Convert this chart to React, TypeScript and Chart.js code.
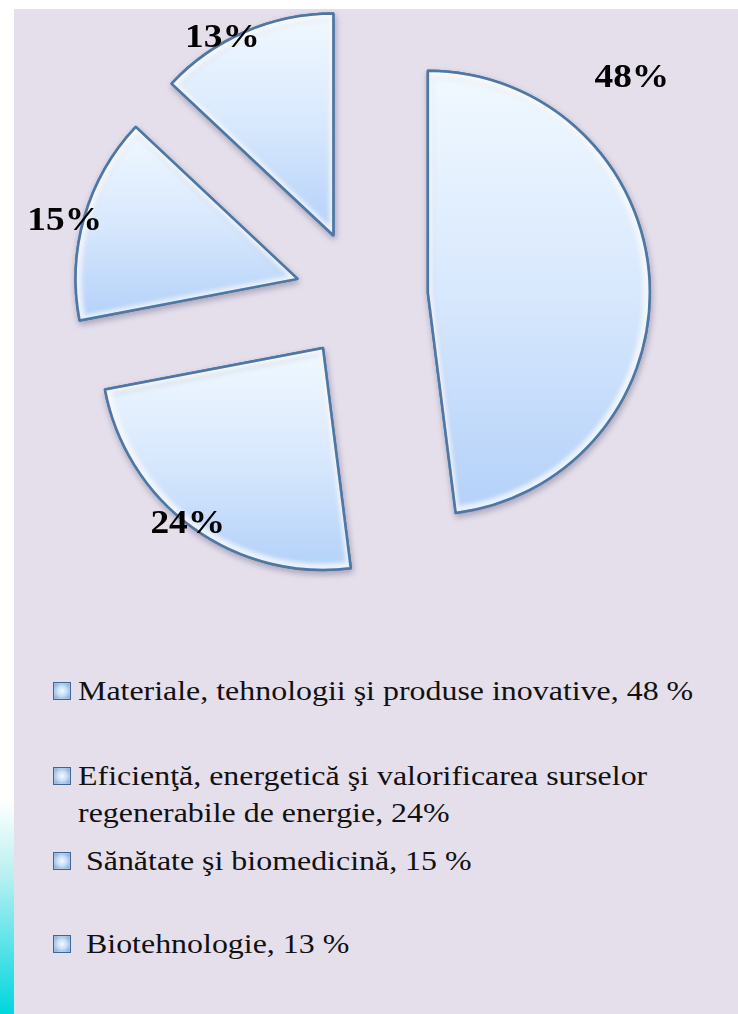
import React, { useEffect, useRef } from "react";
import { Chart, registerables } from "chart.js";

Chart.register(...registerables);

// ---- data ----
const categories = [
  "Materiale, tehnologii şi produse inovative",
  "Eficienţă, energetică şi valorificarea surselor regenerabile de energie",
  "Sănătate şi biomedicină",
  "Biotehnologie",
];
const shares = [48, 24, 15, 13];
const sliceLabels = ["48%", "24%", "15%", "13%"];
const legendLabels = [
  "Materiale, tehnologii şi produse inovative, 48 %",
  "Eficienţă, energetică şi valorificarea surselor\nregenerabile de energie, 24%",
  " Sănătate şi biomedicină, 15 %",
  " Biotehnologie, 13 %",
];

// ---- style ----
const explodeDist = [68, 63, 65, 67]; // radial explosion, px
const labelAngles = [43.5, 217.5, 284, 330.6];
const labelRadii = [1.335, 1.0, 1.081, 1.018];
const legendTops = [672, 757, 842, 925];
const BG = "#e5dfec";
const BORDER = "#4d78a6";

function arcPath(ctx: CanvasRenderingContext2D, arc: any, inset = 0) {
  ctx.beginPath();
  ctx.moveTo(arc.x, arc.y);
  ctx.arc(arc.x, arc.y, arc.outerRadius - inset, arc.startAngle, arc.endAngle);
  ctx.closePath();
}

const piePlugin = {
  id: "pieDecor",
  afterDatasetUpdate(chart: any) {
    const meta = chart.getDatasetMeta(0);
    meta.data.forEach((arc: any, i: number) => {
      const half = (arc.startAngle + arc.endAngle) / 2;
      arc.x += Math.cos(half) * explodeDist[i];
      arc.y += Math.sin(half) * explodeDist[i];
    });
  },
  beforeDatasetsDraw(chart: any) {
    const ctx = chart.ctx;
    const meta = chart.getDatasetMeta(0);
    meta.data.forEach((arc: any) => {
      const R = arc.outerRadius;
      let minY = arc.y;
      let maxY = arc.y;
      for (let i = 0; i <= 40; i++) {
        const a = arc.startAngle + ((arc.endAngle - arc.startAngle) * i) / 40;
        const y = arc.y + Math.sin(a) * R;
        minY = Math.min(minY, y);
        maxY = Math.max(maxY, y);
      }
      const g = ctx.createLinearGradient(0, minY, 0, maxY);
      g.addColorStop(0, "#f1f9ff");
      g.addColorStop(0.5, "#d8e8fd");
      g.addColorStop(1, "#b3d1f9");
      arc.options.backgroundColor = g;
    });
    ctx.save();
    ctx.shadowColor = "rgba(70,70,100,0.35)";
    ctx.shadowBlur = 6;
    ctx.shadowOffsetX = 1;
    ctx.shadowOffsetY = 3;
  },
  afterDatasetsDraw(chart: any) {
    const ctx = chart.ctx;
    ctx.restore();
    const meta = chart.getDatasetMeta(0);
    // bevel highlight
    meta.data.forEach((arc: any) => {
      ctx.save();
      arcPath(ctx, arc);
      ctx.clip();
      ctx.filter = "blur(2px)";
      ctx.strokeStyle = "rgba(255,255,255,0.75)";
      ctx.lineWidth = 9;
      arcPath(ctx, arc, 2);
      ctx.stroke();
      ctx.filter = "none";
      ctx.restore();
      ctx.save();
      ctx.strokeStyle = BORDER;
      ctx.lineWidth = 2.5;
      ctx.lineJoin = "round";
      arcPath(ctx, arc);
      ctx.stroke();
      ctx.restore();
    });
    ctx.save();
    ctx.font = "bold 34px 'Liberation Serif', 'Times New Roman', serif";
    ctx.fillStyle = "#000";
    ctx.textAlign = "center";
    ctx.textBaseline = "middle";
    meta.data.forEach((arc: any, i: number) => {
      const a = (labelAngles[i] * Math.PI) / 180;
      const d = arc.outerRadius * labelRadii[i];
      const lx = arc.x + Math.sin(a) * d;
      const ly = arc.y - Math.cos(a) * d;
      ctx.save();
      ctx.translate(lx, ly);
      ctx.scale(1.1, 1);
      ctx.fillText(sliceLabels[i], 0, 0);
      ctx.restore();
    });
    ctx.restore();
  },
};

export default function App() {
  const ref = useRef<HTMLCanvasElement | null>(null);

  useEffect(() => {
    if (!ref.current) return;
    const chart = new Chart(ref.current, {
      type: "pie",
      data: {
        labels: categories,
        datasets: [
          {
            data: shares,
            backgroundColor: () => "#d9e9fd",
            borderColor: BORDER,
            borderWidth: 2.5,
            clip: false as any,
          } as any,
        ],
      },
      options: {
        responsive: false,
        animation: false,
        radius: 222,
        layout: { padding: { left: 0, right: 18, top: 0, bottom: 26 } },
        plugins: {
          legend: { display: false },
          tooltip: { enabled: false },
        },
        events: [],
      } as any,
      plugins: [piePlugin],
    });
    return () => chart.destroy();
  }, []);

  return (
    <div
      style={{
        position: "fixed",
        left: 0,
        top: 0,
        width: 738,
        height: 1014,
        background: "#ffffff",
        overflow: "hidden",
      }}
    >
      <div
        style={{
          position: "absolute",
          left: 0,
          top: 800,
          width: 14,
          height: 214,
          background: "linear-gradient(to bottom, #ffffff 0%, #b8f0f2 35%, #00d6de 100%)",
        }}
      />
      <div
        style={{
          position: "absolute",
          left: 14,
          top: 9,
          right: 0,
          bottom: 0,
          background: BG,
        }}
      />
      <canvas
        ref={ref}
        width={738}
        height={620}
        style={{ position: "absolute", left: 0, top: 0, width: 738, height: 620 }}
      />
      {legendLabels.map((label, i) => (
        <div
          key={i}
          style={{
            position: "absolute",
            left: 53,
            top: legendTops[i],
            display: "flex",
            alignItems: "flex-start",
          }}
        >
          <div
            style={{
              width: 16,
              height: 16,
              marginTop: 10,
              border: "1px solid #3f6595",
              background:
                "radial-gradient(circle at 50% 50%, #f4f9ff 0%, #c6dcf7 45%, #6f97c8 100%)",
              boxShadow: "inset 0 0 2px rgba(255,255,255,0.8)",
              flex: "none",
            }}
          />
          <div
            style={{
              marginLeft: 7,
              fontFamily: "'Liberation Serif', 'Times New Roman', serif",
              fontSize: 28,
              lineHeight: "37px",
              color: "#111",
              whiteSpace: "pre",
              transform: "scaleX(1.14)",
              transformOrigin: "left top",
            }}
          >
            {label}
          </div>
        </div>
      ))}
    </div>
  );
}
